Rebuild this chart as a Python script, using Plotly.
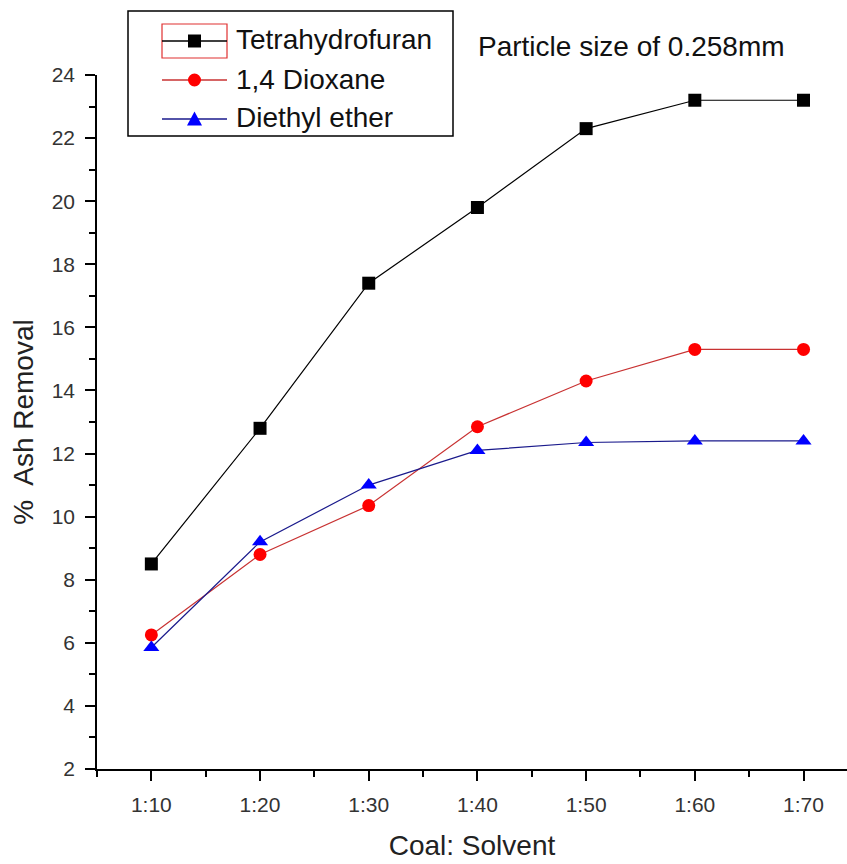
import plotly.graph_objects as go

ratios = ["1:10", "1:20", "1:30", "1:40", "1:50", "1:60", "1:70"]
xpos = [1, 2, 3, 4, 5, 6, 7]
thf = [8.5, 12.8, 17.4, 19.8, 22.3, 23.2, 23.2]
dioxane = [6.25, 8.8, 10.35, 12.85, 14.3, 15.3, 15.3]
ether = [5.85, 9.2, 11.0, 12.1, 12.35, 12.4, 12.4]
series_names = ["Tetrahydrofuran", "1,4 Dioxane", "Diethyl ether"]
colors = ["#000000", "#ff0000", "#0000ff"]
line_colors = ["#000000", "#c83232", "#1a1a8c"]
symbols = ["square", "circle", "triangle-up"]
sizes = [13, 13, 14]

W, H = 847, 864
ML, MR, MT, MB = 97, 0, 75, 95
PW, PH = W - ML - MR, H - MT - MB
FONT = "Liberation Sans, Arial, sans-serif"

def px(x):
    return (x - ML) / PW

def py(y):
    return (H - MB - y) / PH

fig = go.Figure()
for vals, name, c, lc, s, sz in zip([thf, dioxane, ether], series_names, colors, line_colors, symbols, sizes):
    fig.add_trace(go.Scatter(
        x=xpos, y=vals, name=name, mode="lines+markers",
        line=dict(color=lc, width=1.2),
        marker=dict(symbol=s, size=sz, color=c, line=dict(width=0)),
        showlegend=False,
    ))

shapes = []
annotations = []
# legend box
shapes.append(dict(type="rect", xref="paper", yref="paper",
                   x0=px(128), x1=px(453), y0=py(136), y1=py(11),
                   line=dict(color="black", width=1.5), fillcolor="rgba(0,0,0,0)"))
# red selection box around first sample
shapes.append(dict(type="rect", xref="paper", yref="paper",
                   x0=px(162), x1=px(227), y0=py(58), y1=py(24),
                   line=dict(color="#e03030", width=1.2)))
rows = [41, 80, 119]
for i, (name, c, lc) in enumerate(zip(series_names, colors, line_colors)):
    ry = rows[i]
    shapes.append(dict(type="line", xref="paper", yref="paper",
                       x0=px(162), x1=px(227), y0=py(ry), y1=py(ry),
                       line=dict(color=lc, width=1.5)))
    cx = 194.5
    if i == 0:
        shapes.append(dict(type="rect", xref="paper", yref="paper",
                           x0=px(cx - 6.5), x1=px(cx + 6.5), y0=py(ry + 6.5), y1=py(ry - 6.5),
                           fillcolor=c, line=dict(width=0)))
    elif i == 1:
        shapes.append(dict(type="circle", xref="paper", yref="paper",
                           x0=px(cx - 6.5), x1=px(cx + 6.5), y0=py(ry + 6.5), y1=py(ry - 6.5),
                           fillcolor=c, line=dict(width=0)))
    else:
        path = "M {:.5f} {:.5f} L {:.5f} {:.5f} L {:.5f} {:.5f} Z".format(
            px(cx - 7.5), py(ry + 6.5), px(cx + 7.5), py(ry + 6.5), px(cx), py(ry - 7.5))
        shapes.append(dict(type="path", xref="paper", yref="paper", path=path,
                           fillcolor=c, line=dict(width=0)))
    annotations.append(dict(xref="paper", yref="paper", x=px(234), y=py(ry - 1),
                            xanchor="left", yanchor="middle", text=name, showarrow=False,
                            font=dict(family=FONT, size=28, color="#111111")))

annotations.append(dict(xref="paper", yref="paper", x=px(476), y=py(46),
                        xanchor="left", yanchor="middle", text="Particle size of 0.258mm",
                        showarrow=False, font=dict(family=FONT, size=28, color="#111111")))

fig.update_layout(
    width=W, height=H,
    margin=dict(l=ML, r=MR, t=MT, b=MB, autoexpand=False),
    paper_bgcolor="white", plot_bgcolor="white",
    font=dict(family=FONT, color="#222222"),
    shapes=shapes, annotations=annotations,
    showlegend=False,
)
fig.update_xaxes(
    range=[0.5, 7.4], tickvals=xpos, ticktext=ratios,
    showline=True, linecolor="black", linewidth=1.5, mirror=False,
    ticks="outside", ticklen=10, tickwidth=1.5, tickcolor="black",
    minor=dict(ticks="outside", ticklen=6, tickwidth=1.5, tickcolor="black", tick0=0.5, dtick=1),
    showgrid=False, zeroline=False,
    tickfont=dict(family=FONT, size=21, color="#333333"),
    title=dict(text="Coal: Solvent", font=dict(family=FONT, size=28, color="#222222"), standoff=20),
    automargin=False, ticklabelstandoff=6,
)
fig.update_yaxes(
    range=[2, 24], tickvals=list(range(2, 25, 2)),
    showline=True, linecolor="black", linewidth=1.5,
    ticks="outside", ticklen=10, tickwidth=1.5, tickcolor="black",
    minor=dict(ticks="outside", ticklen=6, tickwidth=1.5, tickcolor="black", tick0=3, dtick=2),
    showgrid=False, zeroline=False,
    tickfont=dict(family=FONT, size=21, color="#333333"),
    title=dict(text="%  Ash Removal", font=dict(family=FONT, size=28, color="#222222"), standoff=10),
    automargin=False, ticklabelstandoff=6,
)
fig.write_html("out.html")
